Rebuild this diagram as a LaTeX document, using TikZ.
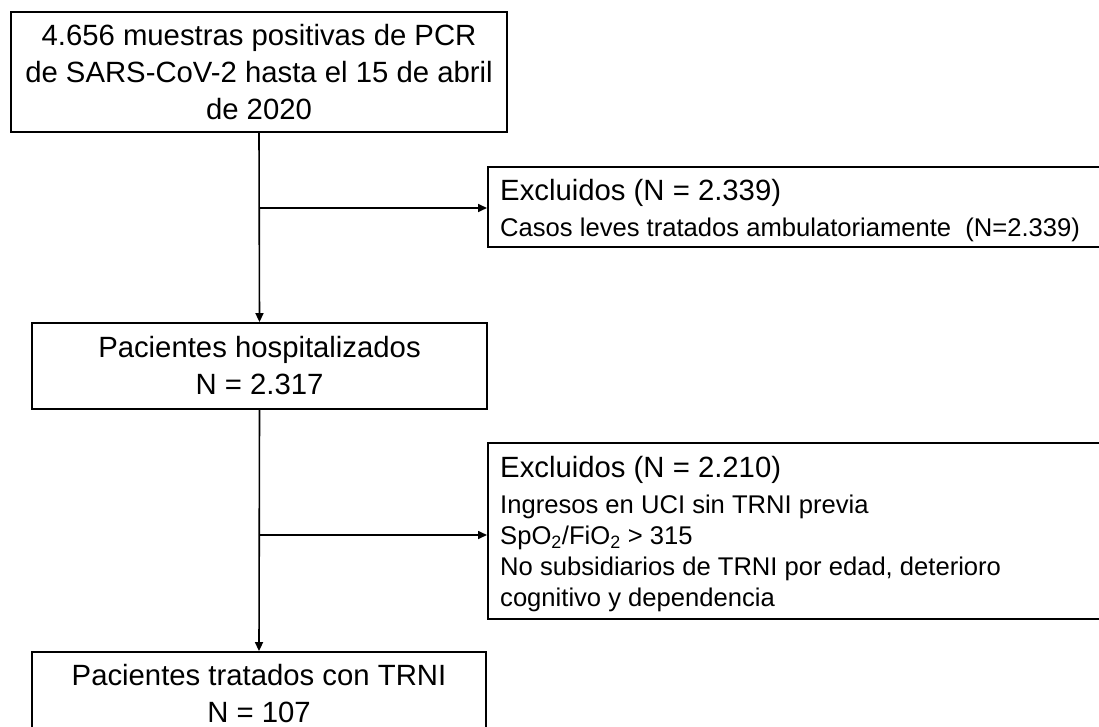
\documentclass[tikz,border=0pt]{standalone}
\usepackage{fontspec}
\setmainfont{Liberation Sans}
\usetikzlibrary{arrows.meta}
\newcommand{\bigf}{\fontsize{29.3}{37}\selectfont}
\newcommand{\smallf}{\fontsize{25.6}{31}\selectfont}
\tikzset{
  x=1pt, y=-1pt,
  box/.style={draw=black, line width=1.8pt, fill=white, align=center, inner sep=0pt,
    font=\bigf},
  exbox/.style={draw=black, line width=1.8pt, fill=white, inner sep=0pt, anchor=west},
  extext/.style={align=left, inner sep=0pt, anchor=west, font=\smallf},
  conn/.style={line width=1.6pt, -{Triangle[length=9pt, width=8pt]}},
}
\begin{document}
\begin{tikzpicture}
\useasboundingbox (0,0) rectangle (1099,727);
\clip (0,0) rectangle (1099,727);
\fill[white] (0,0) rectangle (1099,727);

\node[box, minimum width=496pt, minimum height=120pt] (b1) at (259,72)
  {4.656 muestras positivas de PCR\\de SARS-CoV-2 hasta el 15 de abril\\de 2020};
\node[box, minimum width=455pt, minimum height=86pt] (b2) at (259.5,366)
  {Pacientes hospitalizados\\N = 2.317};
\node[box, minimum width=454pt, minimum height=84pt] (b3) at (259,694)
  {Pacientes tratados con TRNI\\N = 107};

\node[exbox, minimum width=630pt, minimum height=80pt] (e1) at (487,207) {};
\node[extext] (t1) at ([xshift=13pt, yshift=-4pt]e1.west)
  {{\bigf Excluidos (N = 2.339)}\\[5pt]Casos leves tratados ambulatoriamente\ \ (N=2.339)};
\node[exbox, minimum width=630pt, minimum height=176pt] (e2) at (487,531) {};
\node[extext] (t2) at ([xshift=13pt, yshift=-3pt]e2.west)
  {{\bigf Excluidos (N = 2.210)}\\[5pt]Ingresos en UCI sin TRNI previa\\
   SpO\textsubscript{2}/FiO\textsubscript{2} > 315\\
   No subsidiarios de TRNI por edad, deterioro\\
   cognitivo y dependencia};

\coordinate (j1) at (b1.south |- 0,208);
\coordinate (j2) at (b2.south |- 0,535);

\draw[conn] (b1.south) -- (b2.north);
\draw[conn] (b2.south) -- (b3.north);
\draw[conn] (j1) -- (e1.west |- j1);
\draw[conn] (j2) -- (e2.west |- j2);
\end{tikzpicture}
\end{document}
